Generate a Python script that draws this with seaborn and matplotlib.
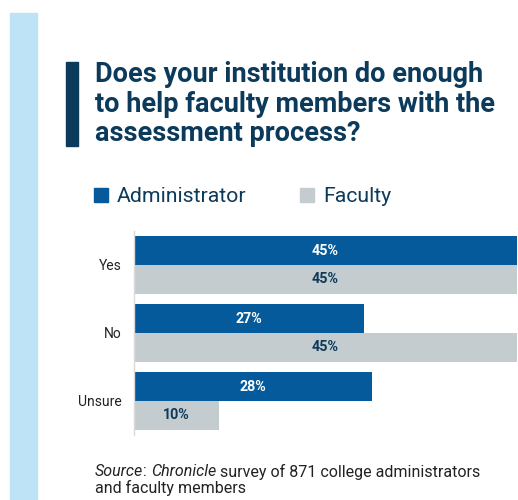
import matplotlib
matplotlib.use('Agg')
import matplotlib.pyplot as plt
import seaborn as sns
import pandas as pd
from matplotlib.patches import Rectangle

categories = ['Yes', 'No', 'Unsure']
groups = ['Administrator', 'Faculty']
administrator = [45, 27, 28]
faculty = [45, 45, 10]
title_lines = ['Does your institution do enough',
               'to help faculty members with the',
               'assessment process?']

ADMIN = '#045A9A'
FAC = '#C5CCD0'
NAVY = '#0C3A5B'

sns.set_theme(style='white')
plt.rcParams['font.family'] = ['Roboto', 'DejaVu Sans']

W, H = 518, 500
fig = plt.figure(figsize=(W / 100, H / 100), dpi=100)
fig.patch.set_facecolor('white')


def fx(x):
    return x / W


def fy(y):
    return 1 - y / H


# decorative strip and title bar
fig.patches.append(Rectangle((fx(10), 0), 27 / W, fy(13), transform=fig.transFigure,
                             color='#BEE3F7', zorder=0))
fig.patches.append(Rectangle((fx(66), fy(146)), 12 / W, 84 / H, transform=fig.transFigure,
                             color=NAVY, zorder=1))

for i, line in enumerate(title_lines):
    fig.text(fx(95), fy(82 + 29.5 * i), line, fontsize=19.5, fontweight='bold',
             color=NAVY, va='baseline', ha='left')

# legend
leg_x = [94, 300]
for gx, name, col in zip(leg_x, groups, [ADMIN, FAC]):
    fig.patches.append(Rectangle((fx(gx), fy(202)), 14 / W, 14 / H, transform=fig.transFigure,
                                 color=col))
    fig.text(fx(gx + 23), fy(202), name, fontsize=15.3, color=NAVY, va='baseline', ha='left')

# bars
ax = fig.add_axes([134 / W, 1 - 435 / H, 383 / W, 204 / H])
df = pd.DataFrame({
    'category': categories * 2,
    'group': [groups[0]] * len(categories) + [groups[1]] * len(categories),
    'value': administrator + faculty,
})
sns.barplot(data=df, y='category', x='value', hue='group', order=categories,
            hue_order=groups, palette=[ADMIN, FAC], width=0.84, orient='h',
            ax=ax, legend=False, linewidth=0, saturation=1)
ax.set_xlim(0, 45)
ax.set_ylim(2.5, -0.5)
ax.set_xticks([])
ax.set_xlabel('')
ax.set_ylabel('')
for s in ['top', 'right', 'bottom']:
    ax.spines[s].set_visible(False)
ax.spines['left'].set_color('#DADADA')
ax.spines['left'].set_linewidth(1)
ax.tick_params(axis='y', length=0, pad=9, labelsize=10, labelcolor='#222222')
ax.set_facecolor('none')

for cont, col in zip(ax.containers, ['white', NAVY]):
    ax.bar_label(cont, labels=[f'{int(v)}%' for v in cont.datavalues], label_type='center',
                 color=col, fontsize=10.3, fontweight='bold')

# source
fig.canvas.draw()
renderer = fig.canvas.get_renderer()
pieces = [('Source', 'italic'), (': ', 'normal'), ('Chronicle', 'italic'),
          (' survey of 871 college administrators', 'normal')]
x = fx(95)
for txt, style in pieces:
    t = fig.text(x, fy(476.5), txt, fontsize=11.5, style=style, color='#222222',
                 va='baseline', ha='left')
    bb = t.get_window_extent(renderer)
    x += bb.width / W
fig.text(fx(95), fy(493.5), 'and faculty members', fontsize=11.5, color='#222222',
         va='baseline', ha='left')

fig.savefig('out.png', dpi=100, facecolor='white')
